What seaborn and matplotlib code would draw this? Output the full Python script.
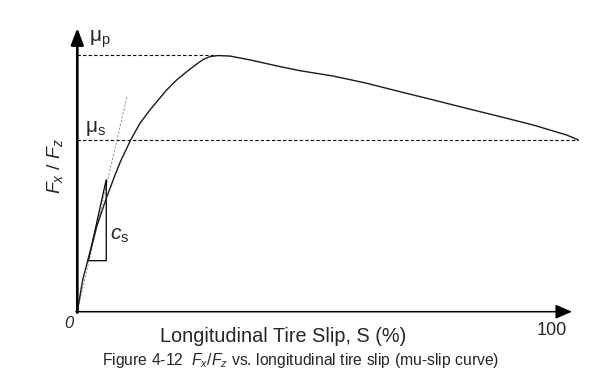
import matplotlib
matplotlib.use("Agg")
import matplotlib.pyplot as plt
import seaborn as sns
import pandas as pd

# ---- data ----
slip = [0, 0.42, 1.14, 2.33, 4.10, 6.13, 7.98, 9.18, 11.30, 13.26, 15.38, 17.14,
        18.91, 21.03, 23.14, 25.26, 26.66, 28.07, 29.77, 32.31, 36.54, 42.88,
        47.11, 54.16, 61.22, 68.27, 75.31, 82.38, 89.42, 96.47, 103.53, 105.99]
mu = [0, 0.046, 0.124, 0.208, 0.332, 0.442, 0.533, 0.588, 0.670, 0.735, 0.787, 0.826,
      0.865, 0.904, 0.936, 0.966, 0.984, 0.995, 0.999, 0.997, 0.982, 0.956,
      0.940, 0.919, 0.891, 0.858, 0.826, 0.793, 0.761, 0.728, 0.689, 0.670]

mu_peak = 1.0
mu_peak_slip = 29.3
mu_slide = 0.670
slip_end = 105.99
tangent_x = [0, 10.51]
tangent_y = [0, 0.839]
tri_x = [2.33, 6.13, 6.13, 2.33]
tri_y = [0.199, 0.199, 0.516, 0.199]

x_tick_labels = ["0", "100"]
x_label = "Longitudinal Tire Slip, S (%)"
caption = "Figure 4-12  $F_x/F_z$ vs. longitudinal tire slip (mu-slip curve)"

df = pd.DataFrame({"slip": slip, "mu": mu})

sns.set_theme(style="white")
plt.rcParams["font.family"] = ["Liberation Sans", "DejaVu Sans"]
plt.rcParams["mathtext.fontset"] = "custom"
plt.rcParams["mathtext.rm"] = "Liberation Sans"
plt.rcParams["mathtext.it"] = "Liberation Sans:italic"
plt.rcParams["mathtext.bf"] = "Liberation Sans:bold"

fig = plt.figure(figsize=(6, 3.7), dpi=100)
ax = fig.add_axes([0, 0, 1, 1])
# pixel mapping: origin at (77.3, 311.7), 4.727 px per % slip, 256.4 px per unit mu
ax.set_xlim(-77.3 / 4.727, (600 - 77.3) / 4.727)
ax.set_ylim(-(370 - 311.7) / 256.4, 311.7 / 256.4)
ax.set_axis_off()

# reference dashed lines
ax.plot([0, mu_peak_slip], [mu_peak, mu_peak], color="black", lw=0.8,
        dashes=(3, 2))
ax.plot([0, slip_end], [mu_slide, mu_slide], color="black", lw=0.8,
        dashes=(3, 2))

# tangent (initial slope) line
ax.plot(tangent_x, tangent_y, color="#9a9a9a", lw=0.7, dashes=(2.5, 1.5))
ax.plot(tri_x, tri_y, color="black", lw=0.9, solid_joinstyle="miter")

# mu-slip curve
sns.lineplot(data=df, x="slip", y="mu", ax=ax, color="#1a1a1a", lw=1.0,
             estimator=None, sort=False)

# axes with arrows
ax.annotate("", xy=(0, (311.7 - 28) / 256.4), xytext=(0, -0.004),
            arrowprops=dict(arrowstyle="-|>,head_length=10,head_width=3.8",
                            mutation_scale=1, lw=1.9, color="black",
                            shrinkA=0, shrinkB=0))
ax.annotate("", xy=((572 - 77.3) / 4.727, 0), xytext=(-0.3, 0),
            arrowprops=dict(arrowstyle="-|>,head_length=10,head_width=4.3",
                            mutation_scale=1, lw=1.1, color="black",
                            shrinkA=0, shrinkB=0))

# labels
ax.text(2.47, 1.052, r"$\mathrm{μ_p}$", fontsize=15, ha="left", va="baseline")
ax.text(1.63, 0.701, r"$\mathrm{μ_s}$", fontsize=15, ha="left", va="baseline")
ax.text(6.92, 0.2797, r"$c_\mathrm{s}$", fontsize=15, ha="left", va="baseline")
ax.text(-4.72, 0.568, r"$F_x$ / $F_z$", fontsize=14, rotation=90,
        ha="center", va="center")
ax.text(-1.76, -0.0636, x_tick_labels[0], fontsize=12, style="italic",
        ha="center", va="baseline")
ax.text(100.4, -0.091, x_tick_labels[1], fontsize=13, ha="center", va="baseline")
ax.text(43.5, -0.118, x_label, fontsize=14.3, ha="center", va="baseline")

fig.text(102 / 600, 4.5 / 370, caption, fontsize=11.3, ha="left", va="baseline")

fig.savefig("out.png", dpi=100)
